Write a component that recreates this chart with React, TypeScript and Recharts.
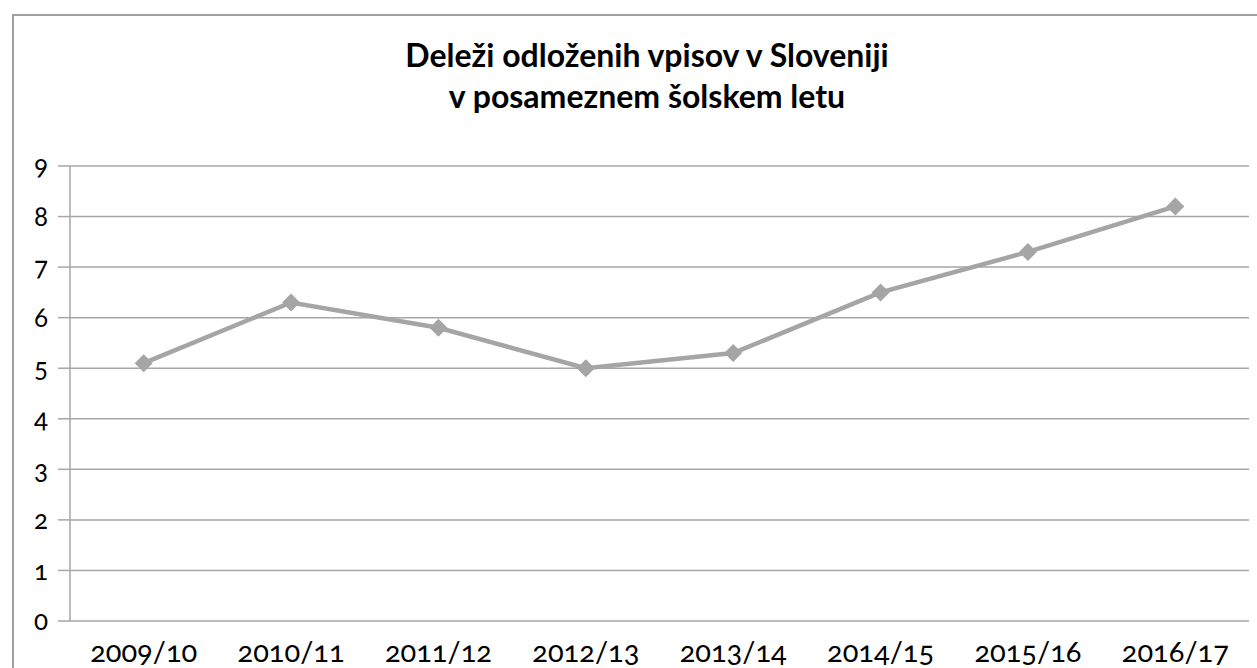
import React from 'react';
import { LineChart, Line, XAxis, YAxis, CartesianGrid } from 'recharts';

const categories = ['2009/10', '2010/11', '2011/12', '2012/13', '2013/14', '2014/15', '2015/16', '2016/17'];
const values = [5.1, 6.3, 5.8, 5.0, 5.3, 6.5, 7.3, 8.2];
const yTicks = [0, 1, 2, 3, 4, 5, 6, 7, 8, 9];
const boundaryTicks = [0, 1, 2, 3, 4, 5, 6, 7, 8];
const titleLines = ['Deleži odloženih vpisov v Sloveniji', 'v posameznem šolskem letu'];

const data = categories.map((c, i) => ({ year: c, value: values[i] }));

const FONT = 'Lato, "Open Sans", sans-serif';
const GRAY = '#A5A5A5';

const Diamond = (props: any) => {
  const { cx, cy } = props;
  if (cx == null || cy == null) return null;
  const r = 9;
  return <path d={`M${cx},${cy - r}L${cx + r},${cy}L${cx},${cy + r}L${cx - r},${cy}Z`} fill={GRAY} stroke="none" />;
};

export default function App() {
  return (
    <div style={{ position: 'absolute', left: 0, top: 0, width: 1257, height: 668, overflow: 'hidden', background: '#fff', fontFamily: FONT, fontVariantNumeric: 'oldstyle-nums' }}>
      <div style={{ position: 'absolute', left: 12, top: 14, width: 1300, height: 800, border: '2px solid #9E9EA3', boxSizing: 'border-box' }} />
      <div style={{ position: 'absolute', left: 0, width: 1294, top: 34, textAlign: 'center', fontWeight: 700, fontSize: 32, lineHeight: '41px', color: '#000' }}>
        {titleLines.map((t) => (
          <div key={t}>{t}</div>
        ))}
      </div>
      <div style={{ position: 'absolute', left: 0, top: 0 }}>
        <LineChart width={1257} height={668} data={data} margin={{ top: 166, right: 8, bottom: 0, left: 0 }}>
          <CartesianGrid horizontal vertical={false} stroke="#A6A6A6" strokeWidth={1.5} />
          <XAxis
            xAxisId="num"
            type="number"
            domain={[0, 8]}
            ticks={boundaryTicks}
            tickFormatter={() => ''}
            height={0}
            axisLine={{ stroke: '#A6A6A6', strokeWidth: 1.5 }}
            tickLine={{ stroke: '#A6A6A6', strokeWidth: 1.5 }}
            tickSize={12}
            allowDataOverflow
          />
          <XAxis
            xAxisId="cat"
            dataKey="year"
            type="category"
            scale="band"
            height={47}
            axisLine={false}
            tickLine={false}
            tickSize={0}
            tickMargin={20}
            interval={0}
            tick={{ fill: '#000', fontSize: 29, fontFamily: FONT }}
          />
          <YAxis
            domain={[0, 9]}
            ticks={yTicks}
            width={70}
            interval={0}
            tickSize={12}
            tickMargin={10}
            axisLine={{ stroke: '#A6A6A6', strokeWidth: 1.5 }}
            tickLine={{ stroke: '#A6A6A6', strokeWidth: 1.5 }}
            tick={{ fill: '#000', fontSize: 26, fontFamily: FONT }}
          />
          <Line
            xAxisId="cat"
            dataKey="value"
            stroke={GRAY}
            strokeWidth={4.5}
            dot={<Diamond />}
            activeDot={false}
            isAnimationActive={false}
          />
        </LineChart>
      </div>
    </div>
  );
}
